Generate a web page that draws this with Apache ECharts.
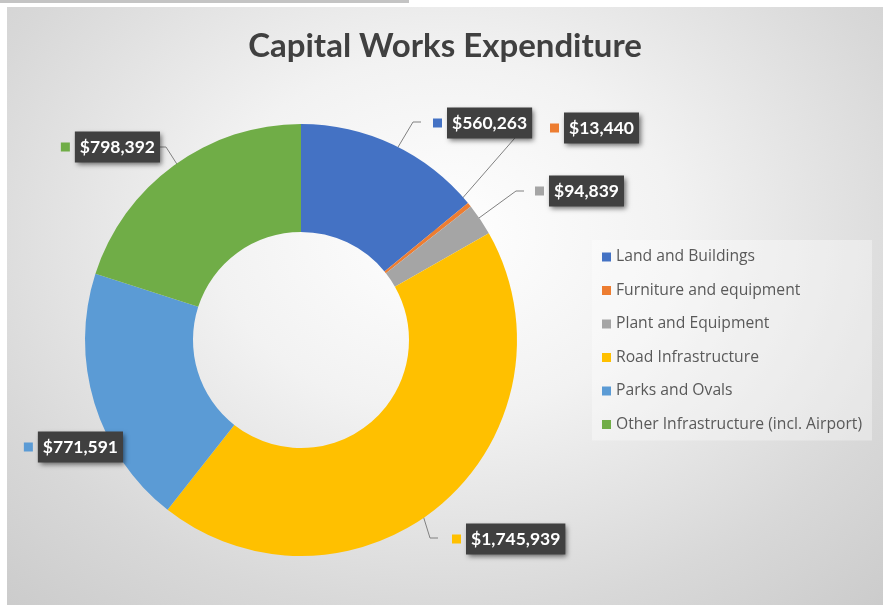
<!DOCTYPE html>
<html>
<head>
<meta charset="utf-8">
<script src="https://cdn.jsdelivr.net/npm/echarts@6/dist/echarts.min.js"></script>
<style>
  html, body { margin: 0; padding: 0; background: #fff; }
  #bar { position: absolute; left: 0; top: 0; width: 409px; height: 3px; background: #c4c4c4; }
  #frame {
    position: absolute; left: 7px; top: 7px; width: 876px; height: 598px;
    background: radial-gradient(ellipse 75% 85% at 50% 38%, #ffffff 0%, #f2f2f2 35%, #d8d8d8 75%, #cbcbcb 100%);
  }
  #chart { position: absolute; left: 0; top: 0; width: 890px; height: 605px; }
</style>
</head>
<body>
<div id="bar"></div>
<div id="frame"></div>
<div id="chart"></div>
<script>
// chart data
const categories = ['Land and Buildings', 'Furniture and equipment', 'Plant and Equipment',
  'Road Infrastructure', 'Parks and Ovals', 'Other Infrastructure (incl. Airport)'];
const amounts = [560263, 13440, 94839, 1745939, 771591, 798392];
const colors = ['#4472C4', '#ED7D31', '#A5A5A5', '#FFC000', '#5B9BD5', '#70AD47'];

// where each data label sits (anchor x, y, side) and the elbow of its leader line
const labelSpots = [[433, 123, 'left'], [550, 128, 'left'], [535, 191, 'left'],
  [452, 539, 'left'], [123, 447, 'right'], [160, 147, 'right']];
const elbows = [[413, 122], [521, 131], [516, 191], [430, 538], null, [166, 147]];

const pieCenter = [301, 340];
const fontName = 'Lato, "Open Sans", sans-serif';

function money(v) {
  return '$' + v.toLocaleString('en-US');
}

// one coloured key per slice for the label rich text
let rich = {
  gap: { width: 5 },
  box: {
    backgroundColor: '#404040', color: '#fff', fontWeight: 'bold', fontSize: 17.5,
    fontFamily: fontName, padding: [7, 5, 6, 5],
    shadowBlur: 5, shadowColor: 'rgba(0,0,0,0.55)', shadowOffsetX: 2, shadowOffsetY: 2
  }
};
for (let i = 0; i < colors.length; i++) {
  rich['k' + i] = { width: 9, height: 9, backgroundColor: colors[i] };
}

let pieData = [];
for (let i = 0; i < categories.length; i++) {
  let item = { name: categories[i], value: amounts[i] };
  if (!elbows[i]) item.labelLine = { show: false };
  pieData.push(item);
}

var chart = echarts.init(document.getElementById('chart'));

chart.setOption({
  color: colors,
  title: {
    text: 'Capital Works Expenditure',
    left: 'center',
    top: 25,
    textStyle: { fontFamily: fontName, fontWeight: 'bold', fontSize: 33, color: '#404040' }
  },
  legend: {
    orient: 'vertical',
    left: 592,
    top: 240,
    padding: [9, 10, 8, 10],
    backgroundColor: 'rgba(255,255,255,0.35)',
    icon: 'rect',
    itemWidth: 9,
    itemHeight: 9,
    itemGap: 17.5,
    selectedMode: false,
    data: categories,
    textStyle: { fontFamily: '"Open Sans", sans-serif', fontSize: 15.7, color: '#595959', lineHeight: 15 }
  },
  series: [{
    type: 'pie',
    center: pieCenter,
    radius: [108, 216],
    startAngle: 90,
    clockwise: true,
    silent: true,
    data: pieData,
    label: {
      position: 'outside',
      overflow: 'none',
      formatter: p => '{k' + p.dataIndex + '| }{gap| }{box|' + money(p.value) + '}',
      rich: rich
    },
    labelLine: {
      show: true,
      length: 10,
      length2: 10,
      lineStyle: { color: '#808080', width: 1 }
    },
    labelLayout: function (params) {
      const i = params.dataIndex;
      const spot = labelSpots[i];
      let out = {
        x: spot[0],
        y: spot[1],
        align: spot[2],
        verticalAlign: 'middle'
      };
      if (elbows[i] && params.labelLinePoints) {
        // start the leader in the middle of the ring along the slice's own mid angle
        const p0 = params.labelLinePoints[0];
        const start = [pieCenter[0] + (p0[0] - pieCenter[0]) * 0.75,
                       pieCenter[1] + (p0[1] - pieCenter[1]) * 0.75];
        const end = spot[2] === 'left' ? [elbows[i][0] + 8, elbows[i][1]] : [elbows[i][0] - 6, elbows[i][1]];
        out.labelLinePoints = [start, elbows[i], end];
      }
      return out;
    }
  }]
});
</script>
</body>
</html>
